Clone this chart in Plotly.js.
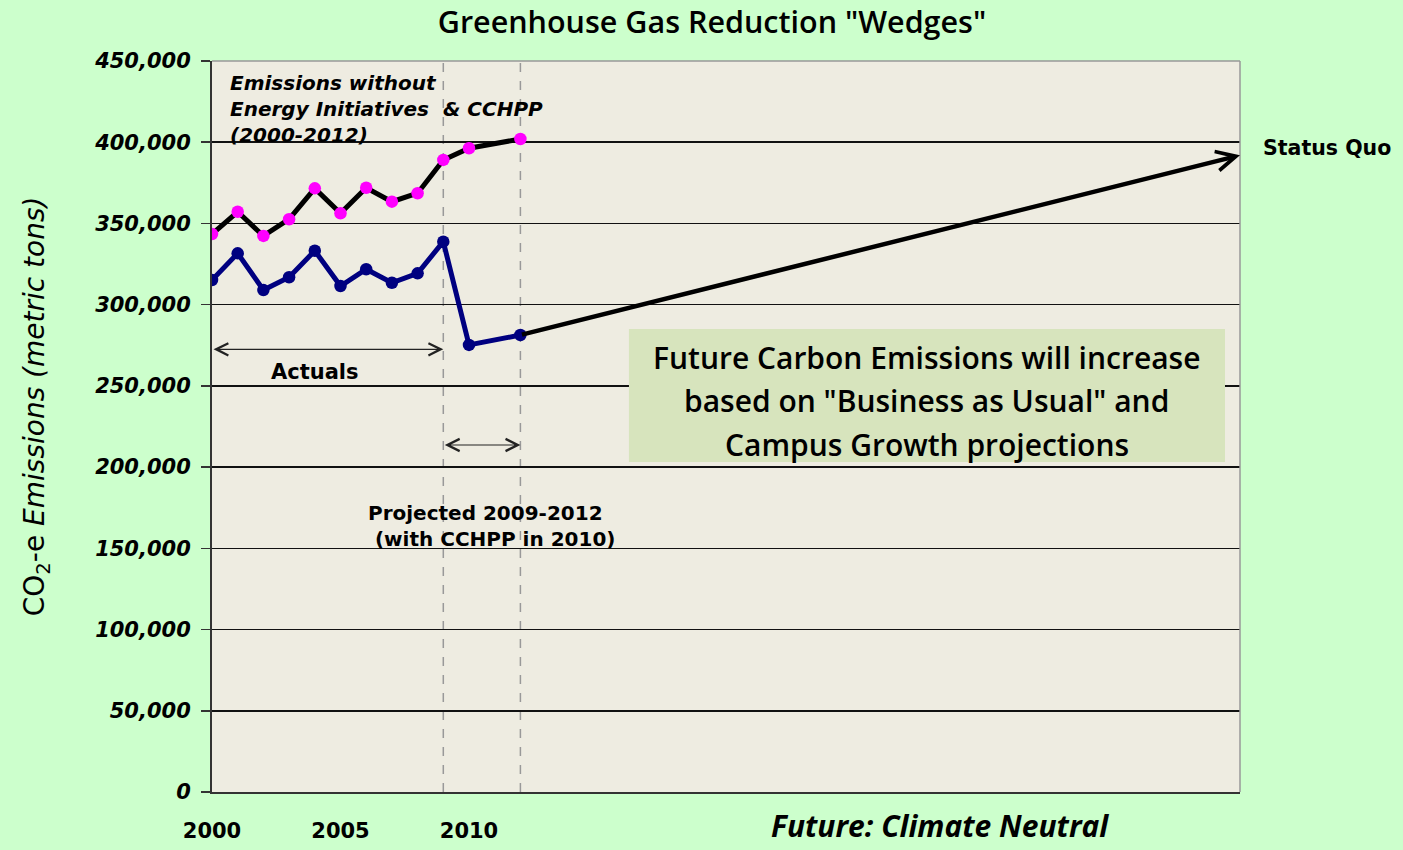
<!DOCTYPE html>
<html>
<head>
<meta charset="utf-8">
<script src="https://cdn.plot.ly/plotly-3.0.1.min.js"></script>
<style>html,body{margin:0;padding:0;background:#CCFFCC;}#chart{width:1403px;height:850px;}</style>
</head>
<body>
<div id="chart"></div>
<script>
// ---- data ----
const years = [2000, 2001, 2002, 2003, 2004, 2005, 2006, 2007, 2008, 2009, 2010, 2012];
const withoutInitiatives = [343500, 357200, 342300, 352600, 371600, 356300, 372000, 363400, 368600, 389100, 396300, 402000];
const actualProjected = [315200, 331600, 309000, 316900, 333200, 311500, 321800, 313500, 319300, 338800, 275200, 281300];
const statusQuoYears = [2012, 2040];
const statusQuoValues = [281300, 392000];
const xTickVals = [2000, 2005, 2010];
const xTickText = ['2000', '2005', '2010'];
const yTickVals = [0, 50000, 100000, 150000, 200000, 250000, 300000, 350000, 400000, 450000];
const yTickText = ['0', '50,000', '100,000', '150,000', '200,000', '250,000', '300,000', '350,000', '400,000', '450,000'];
const boxLines = ['Future Carbon Emissions will increase', 'based on "Business as Usual" and', 'Campus Growth projections'];

const traces = [
  {
    x: years, y: withoutInitiatives, type: 'scatter', mode: 'lines+markers',
    line: {color: '#000000', width: 5},
    marker: {color: '#FF00FF', size: 12.5},
    hoverinfo: 'skip'
  },
  {
    x: years, y: actualProjected, type: 'scatter', mode: 'lines+markers',
    line: {color: '#000080', width: 5},
    marker: {color: '#000080', size: 12.5},
    hoverinfo: 'skip'
  }
];

const arial = 'DejaVu Sans, Arial, sans-serif';
const calibri = 'Open Sans, Lato, sans-serif';

const annotations = [
  // status quo arrow
  {x: statusQuoYears[1], y: statusQuoValues[1], ax: statusQuoYears[0], ay: statusQuoValues[0],
   xref: 'x', yref: 'y', axref: 'x', ayref: 'y', text: '', showarrow: true,
   arrowhead: 5, arrowsize: 0.85, arrowwidth: 4.5, arrowcolor: '#000000', standoff: 0},
  {x: 1.020, y: 0.881, xref: 'paper', yref: 'paper', xanchor: 'left', yanchor: 'middle',
   text: '<b>Status Quo</b>', showarrow: false, font: {family: arial, size: 20.5, color: '#000'}},
  // actuals arrow
  {x: 2009, y: 272500, ax: 2000, ay: 272500, xref: 'x', yref: 'y', axref: 'x', ayref: 'y',
   text: '', showarrow: true, arrowside: 'end+start', arrowhead: 5, startarrowhead: 5,
   arrowsize: 2, startarrowsize: 2, arrowwidth: 1.2, arrowcolor: '#222', standoff: 0, startstandoff: 0},
  {x: 0.1, y: 0.575, xref: 'paper', yref: 'paper', xanchor: 'center', yanchor: 'middle',
   text: 'Actuals', showarrow: false, font: {family: arial, size: 21, color: '#000', weight: 600}},
  // projected arrow
  {x: 2012, y: 213600, ax: 2009, ay: 213600, xref: 'x', yref: 'y', axref: 'x', ayref: 'y',
   text: '', showarrow: true, arrowside: 'end+start', arrowhead: 5, startarrowhead: 5,
   arrowsize: 2, startarrowsize: 2, arrowwidth: 1.2, arrowcolor: '#222', standoff: 0, startstandoff: 0},
  {x: 0.1495, y: 0.364, xref: 'paper', yref: 'paper', xanchor: 'left', yanchor: 'middle', align: 'left',
   text: 'Projected 2009-2012<br> (with CCHPP in 2010)', showarrow: false,
   font: {family: arial, size: 20, color: '#000', weight: 600}},
  // emissions without label
  {x: 0.0155, y: 0.989, xref: 'paper', yref: 'paper', xanchor: 'left', yanchor: 'top', align: 'left',
   text: '<b><i>Emissions without<br>Energy Initiatives  &amp; CCHPP<br>(2000-2012)</i></b>', showarrow: false,
   font: {family: arial, size: 20, color: '#000'}},
  // future label
  {x: 0.708, y: -0.046, xref: 'paper', yref: 'paper', xanchor: 'center', yanchor: 'middle',
   text: '<b><i>Future: Climate Neutral</i></b>', showarrow: false, font: {family: calibri, size: 30, color: '#000'}},
  // y axis title
  {x: -0.171, y: 0.528, xref: 'paper', yref: 'paper', xanchor: 'center', yanchor: 'middle', textangle: -90,
   text: 'CO<sub>2</sub>-e <i>Emissions (metric tons)</i>', showarrow: false, font: {family: arial, size: 28, color: '#000'}}
];

// text box lines
const boxYs = [0.594, 0.535, 0.476];
boxLines.forEach((t, i) => {
  annotations.push({x: 0.6955, y: boxYs[i], xref: 'paper', yref: 'paper', xanchor: 'center', yanchor: 'middle',
    text: t, showarrow: false, font: {family: calibri, size: 30, color: '#000', weight: 600}});
});

const shapes = [
  {type: 'rect', xref: 'paper', yref: 'paper', x0: 0.4056, x1: 0.9854, y0: 0.4514, y1: 0.6334,
   fillcolor: '#D7E4BD', line: {width: 0}, layer: 'above'},
  {type: 'line', xref: 'x', yref: 'paper', x0: 2009, x1: 2009, y0: 0, y1: 1, line: {color: '#999999', width: 1.5, dash: 'dash'}, layer: 'below'},
  {type: 'line', xref: 'x', yref: 'paper', x0: 2012, x1: 2012, y0: 0, y1: 1, line: {color: '#999999', width: 1.5, dash: 'dash'}, layer: 'below'},
  {type: 'line', xref: 'paper', yref: 'paper', x0: 0, x1: 1, y0: 1, y1: 1, line: {color: '#999999', width: 1.5}},
  {type: 'line', xref: 'paper', yref: 'paper', x0: 1, x1: 1, y0: 0, y1: 1, line: {color: '#999999', width: 1.5}}
];

const layout = {
  width: 1403, height: 850,
  paper_bgcolor: '#CCFFCC', plot_bgcolor: '#EEECE1',
  margin: {l: 212, r: 163, t: 61, b: 58},
  showlegend: false,
  title: {text: 'Greenhouse Gas Reduction "Wedges"', x: 0.5075, xref: 'container', xanchor: 'center',
          y: 0.974, yref: 'container', yanchor: 'middle', font: {family: calibri, size: 30.5, color: '#000', weight: 600}},
  xaxis: {range: [2000, 2040], tickvals: xTickVals, ticktext: xTickText, showgrid: false, zeroline: false,
          showline: true, linecolor: '#333', linewidth: 2, ticks: '', ticklabelstandoff: 19,
          tickfont: {family: arial, size: 21, color: '#000', weight: 'bold'}},
  yaxis: {range: [0, 450000], tickvals: yTickVals, ticktext: yTickText, showgrid: true, gridcolor: '#111', gridwidth: 1.6,
          zeroline: false, showline: true, linecolor: '#333', linewidth: 2, ticks: 'outside', ticklen: 9, tickcolor: '#333', tickwidth: 1.5,
          ticklabelstandoff: 6,
          tickfont: {family: arial, size: 21, color: '#000', weight: 'bold', style: 'italic'}},
  annotations: annotations,
  shapes: shapes
};

Plotly.newPlot('chart', traces, layout, {displayModeBar: false, staticPlot: true});
</script>
</body>
</html>
